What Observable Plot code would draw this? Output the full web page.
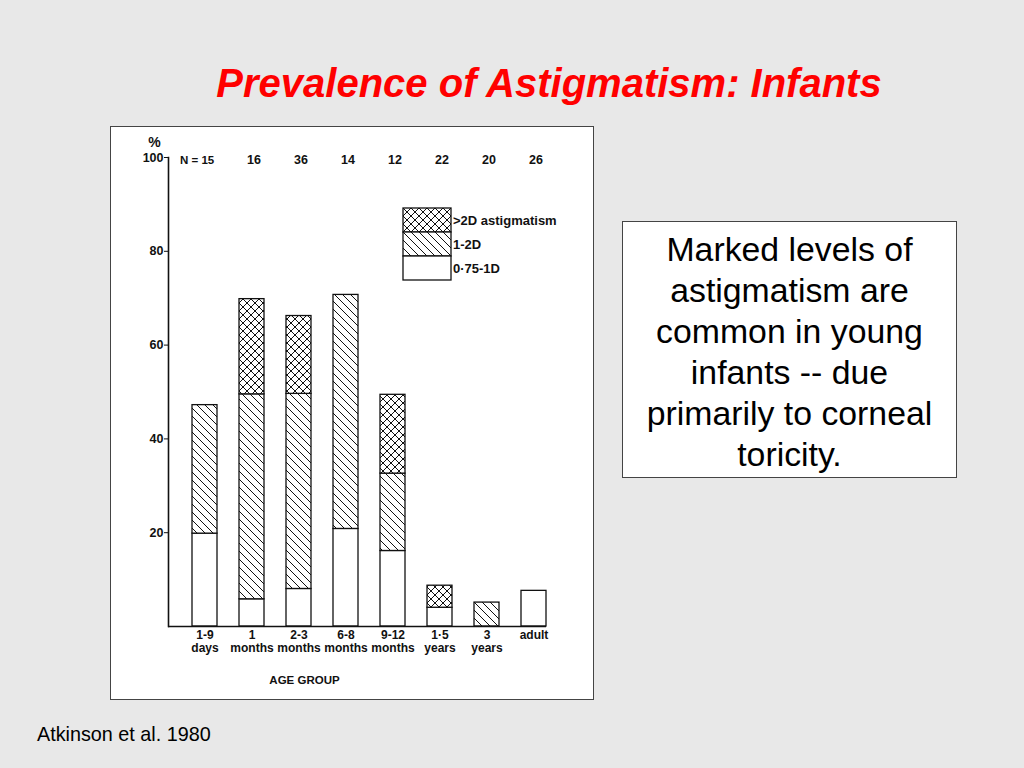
<!DOCTYPE html>
<html><head><meta charset="utf-8">
<script src="https://cdn.jsdelivr.net/npm/d3@7"></script>
<script src="https://cdn.jsdelivr.net/npm/@observablehq/plot@0.6"></script>
<style>
body{margin:0;background:#e8e8e8;}
#slide{position:relative;width:1024px;height:768px;background:#e8e8e8;overflow:hidden;font-family:"Liberation Sans",Arial,sans-serif;}
#title{position:absolute;left:0;width:1098px;top:58px;text-align:center;color:#f00;font-family:"Liberation Sans Narrow","Arial Narrow","Liberation Sans",sans-serif;font-weight:bold;font-style:italic;font-size:40px;line-height:50px;white-space:nowrap;}
#chartbox{position:absolute;left:110px;top:126px;width:482px;height:572px;border:1px solid #444;background:#fff;}
#chartbox svg{display:block;}
#legend{position:absolute;left:398px;top:203px;}
#note{position:absolute;left:622px;top:221px;width:333px;border:1px solid #444;background:#fff;text-align:center;font-size:33.8px;line-height:41px;padding-top:7px;height:248px;color:#000;white-space:nowrap;}
#cite{position:absolute;left:37px;top:722px;font-size:19.8px;line-height:24px;color:#000;}
</style></head><body>
<div id="slide">
  <div id="title">Prevalence of Astigmatism: Infants</div>
  <div id="chartbox"></div>
  <svg id="legend" width="200" height="85"></svg>
  <div id="note">Marked levels of<br>astigmatism are<br>common in young<br>infants -- due<br>primarily to corneal<br>toricity.</div>
  <div id="cite">Atkinson et al. 1980</div>
</div>
<svg width="0" height="0" style="position:absolute;left:0;top:0">
  <defs>
    <pattern id="pHatch" patternUnits="userSpaceOnUse" width="8" height="8">
      <rect width="8" height="8" fill="#fff"/>
      <path d="M0,0L8,8M-2,6L2,10M6,-2L10,2" stroke="#111" stroke-width="1"/>
    </pattern>
    <pattern id="pCross" patternUnits="userSpaceOnUse" width="8" height="8">
      <rect width="8" height="8" fill="#fff"/>
      <path d="M0,0L8,8M-2,6L2,10M6,-2L10,2M8,0L0,8M-2,2L2,-2M6,10L10,6" stroke="#111" stroke-width="1"/>
    </pattern>
  </defs>
</svg>
<script>
const categories = ["1-9 days","1 months","2-3 months","6-8 months","9-12 months","1·5 years","3 years","adult"];
const tickLabels = ["1-9\ndays","1\nmonths","2-3\nmonths","6-8\nmonths","9-12\nmonths","1·5\nyears","3\nyears","adult"];
const nCounts = [15,16,36,14,12,22,20,26];
const series = ["0·75-1D","1-2D",">2D astigmatism"];
const low  = [19.8, 5.8, 8.0, 20.8, 16.1, 4.0, 0, 7.6];
const mid  = [27.4, 43.7, 41.6, 49.9, 16.5, 0, 5.1, 0];
const high = [0, 20.3, 16.6, 0, 16.8, 4.7, 0, 0];
const fills = ["#ffffff","url(#pHatch)","url(#pCross)"];
const yTicks = [20,40,60,80,100];

const rows = [];
categories.forEach((c,i)=>{
  [low,mid,high].forEach((arr,j)=>{
    if (arr[i] > 0) rows.push({age:c, series:series[j], value:arr[i]});
  });
});

const ink = "#111";
const font = "'Liberation Sans', Arial, sans-serif";
const plot = Plot.plot({
  width:482, height:572,
  marginLeft:57, marginRight:47, marginTop:30, marginBottom:73,
  style:{background:"#fff", fontFamily:font, fontWeight:"bold", color:ink},
  x:{domain:categories, paddingInner:0.474, paddingOuter:0.241, align:1},
  y:{domain:[0,100]},
  color:{domain:series, range:fills},
  marks:[
    Plot.barY(rows, {x:"age", y:"value", fill:"series", stroke:ink, strokeWidth:1.3}),
    Plot.frame({anchor:"left", stroke:ink, strokeWidth:1.6}),
    Plot.ruleY([0], {stroke:ink, strokeWidth:1.6}),
    Plot.axisX({tickFormat:d=>tickLabels[categories.indexOf(d)], tickSize:0, tickPadding:3, fontSize:12, lineHeight:1.1, label:null}),
    Plot.axisY({ticks:yTicks, tickSize:4, tickPadding:1, fontSize:12.5, label:null}),
    Plot.text([categories[0]], {x:d=>d, text:d=>"N = " + nCounts[0], frameAnchor:"top", textAnchor:"start", dx:-25, dy:-2, fontSize:11.5}),
    Plot.text(categories.slice(1), {x:d=>d, text:d=>String(nCounts[categories.indexOf(d)]), frameAnchor:"top", dx:2, dy:-2, fontSize:12.5}),
    Plot.text(["%"], {frameAnchor:"top-left", textAnchor:"middle", dx:-14, dy:-20, fontSize:14, text:d=>d}),
    Plot.text(["AGE GROUP"], {frameAnchor:"bottom-left", textAnchor:"middle", dx:136, dy:57, fontSize:11.5, text:d=>d})
  ]
});
document.getElementById("chartbox").appendChild(plot);

// legend (top to bottom: >2D, 1-2D, 0.75-1D)
const lg = d3.select("#legend");
const legendOrder = [2,1,0];
const boxW = 48, boxH = 24;
const items = lg.selectAll("g").data(legendOrder).join("g")
  .attr("transform", (d,i)=>`translate(5,${5 + i*boxH})`);
items.append("rect").attr("width", boxW).attr("height", boxH)
  .attr("fill", d=>fills[d]).attr("stroke", ink).attr("stroke-width", 1.3);
items.append("text").attr("x", boxW + 2).attr("y", boxH/2).attr("dy","0.35em")
  .attr("font-family", font).attr("font-weight","bold")
  .attr("font-size", 13).attr("fill", ink).text(d=>series[d]);
</script>
</body></html>
